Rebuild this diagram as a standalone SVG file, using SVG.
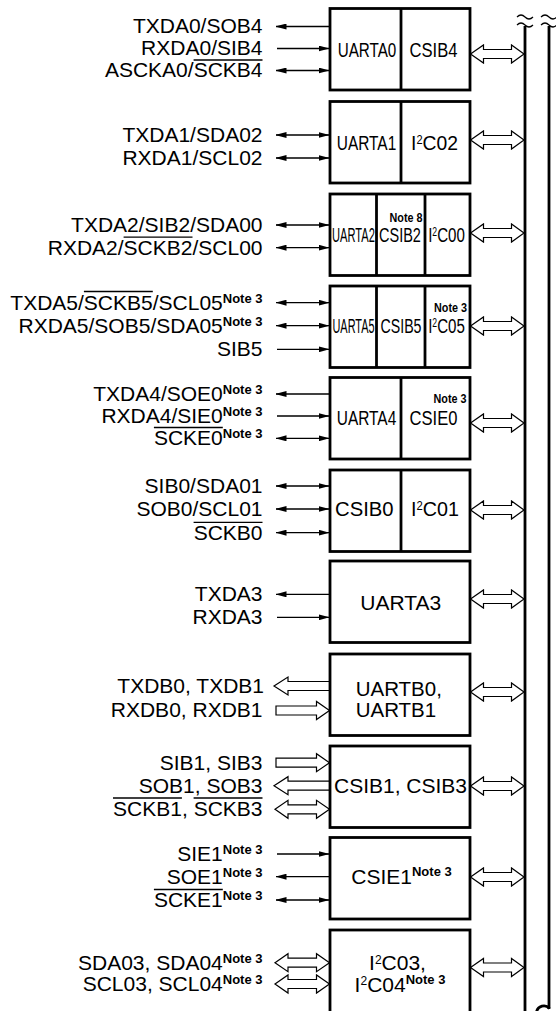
<svg xmlns="http://www.w3.org/2000/svg" width="556" height="1011" viewBox="0 0 556 1011">
<style>
text { font-family: "Liberation Sans", Arial, Helvetica, sans-serif; fill: #000; }
.l { font-size: 21px; text-anchor: end; }
.c { font-size: 21px; text-anchor: middle; }
.st { font-size: 20.5px; text-anchor: start; }
.n { font-size: 13px; font-weight: bold; }
.nb { font-size: 13.5px; font-weight: bold; text-anchor: end; }
.ov { stroke: #000; stroke-width: 1.3; }
.box { fill: #fff; stroke: #000; stroke-width: 2.8; }
.dv { stroke: #000; stroke-width: 2.8; }
.s { stroke: #000; stroke-width: 1.3; fill: none; }
.bus { stroke: #000; stroke-width: 2.8; fill: none; }
.brk { stroke: #000; stroke-width: 1.2; fill: none; }
</style>
<defs>
<marker id="a" viewBox="0 0 11 6" refX="10.5" refY="3" markerWidth="11" markerHeight="6" markerUnits="userSpaceOnUse" orient="auto-start-reverse"><path d="M0,0 L11,3 L0,6 z" fill="#000"/></marker>
<path id="hOut" d="M329,-4.5 H288 V-9 L274,0 L288,9 V4.5 H329" fill="#fff" stroke="#000" stroke-width="1.2"/>
<polygon id="hIn" points="276,-4.5 316.5,-4.5 316.5,-9 329.5,0 316.5,9 316.5,4.5 276,4.5" fill="#fff" stroke="#000" stroke-width="1.2"/>
<polygon id="hBoth" points="275,0 288,-9 288,-4.5 316.5,-4.5 316.5,-9 329.5,0 316.5,9 316.5,4.5 288,4.5 288,9" fill="#fff" stroke="#000" stroke-width="1.2"/>
<polygon id="busA" points="470.5,0 483.5,-9 483.5,-4.5 511.5,-4.5 511.5,-9 524,0 511.5,9 511.5,4.5 483.5,4.5 483.5,9" fill="#fff" stroke="#000" stroke-width="1.2"/>
</defs>
<rect width="556" height="1011" fill="#fff"/>

<g id="bus">
<line class="bus" x1="525" y1="26" x2="525" y2="1011"/>
<line class="bus" x1="549" y1="26" x2="549" y2="1009"/>
<path class="brk" d="M517,17 Q521,13 525,17 T533,17"/>
<path class="brk" d="M517,25 Q521,21 525,25 T533,25"/>
<path class="brk" d="M541,17 Q545,13 549,17 T557,17"/>
<path class="brk" d="M541,25 Q545,21 549,25 T557,25"/>
<path class="bus" d="M536.5,1012 A7.5,7.5 0 0 1 549.5,1008.5"/>
</g>

<g id="connectors">
<line class="s" x1="329" y1="26.5" x2="276" y2="26.5" marker-end="url(#a)"/>
<line class="s" x1="277" y1="48.5" x2="329" y2="48.5" marker-end="url(#a)"/>
<line class="s" x1="276" y1="70.5" x2="329" y2="70.5" marker-start="url(#a)" marker-end="url(#a)"/>
<line class="s" x1="276" y1="135" x2="329" y2="135" marker-start="url(#a)" marker-end="url(#a)"/>
<line class="s" x1="276" y1="158" x2="329" y2="158" marker-start="url(#a)" marker-end="url(#a)"/>
<line class="s" x1="276" y1="225" x2="329" y2="225" marker-start="url(#a)" marker-end="url(#a)"/>
<line class="s" x1="276" y1="247.7" x2="329" y2="247.7" marker-start="url(#a)" marker-end="url(#a)"/>
<line class="s" x1="276" y1="302.7" x2="329" y2="302.7" marker-start="url(#a)" marker-end="url(#a)"/>
<line class="s" x1="276" y1="325.7" x2="329" y2="325.7" marker-start="url(#a)" marker-end="url(#a)"/>
<line class="s" x1="277" y1="349.3" x2="329" y2="349.3" marker-end="url(#a)"/>
<line class="s" x1="329" y1="394" x2="276" y2="394" marker-end="url(#a)"/>
<line class="s" x1="277" y1="416" x2="329" y2="416" marker-end="url(#a)"/>
<line class="s" x1="276" y1="438.3" x2="329" y2="438.3" marker-start="url(#a)" marker-end="url(#a)"/>
<line class="s" x1="276" y1="486" x2="329" y2="486" marker-start="url(#a)" marker-end="url(#a)"/>
<line class="s" x1="276" y1="509" x2="329" y2="509" marker-start="url(#a)" marker-end="url(#a)"/>
<line class="s" x1="276" y1="532.7" x2="329" y2="532.7" marker-start="url(#a)" marker-end="url(#a)"/>
<line class="s" x1="329" y1="594.3" x2="276" y2="594.3" marker-end="url(#a)"/>
<line class="s" x1="277" y1="617.3" x2="329" y2="617.3" marker-end="url(#a)"/>
<use href="#hOut" y="686"/>
<use href="#hIn" y="710.5"/>
<use href="#hIn" y="762.7"/>
<use href="#hOut" y="785.7"/>
<use href="#hBoth" y="809.3"/>
<line class="s" x1="277" y1="854" x2="329" y2="854" marker-end="url(#a)"/>
<line class="s" x1="329" y1="876.7" x2="276" y2="876.7" marker-end="url(#a)"/>
<line class="s" x1="276" y1="900" x2="329" y2="900" marker-start="url(#a)" marker-end="url(#a)"/>
<use href="#hBoth" y="962.7"/>
<use href="#hBoth" y="984"/>
<use href="#busA" y="54"/>
<use href="#busA" y="140"/>
<use href="#busA" y="233"/>
<use href="#busA" y="326"/>
<use href="#busA" y="423"/>
<use href="#busA" y="510"/>
<use href="#busA" y="599"/>
<use href="#busA" y="692"/>
<use href="#busA" y="786"/>
<use href="#busA" y="877"/>
<use href="#busA" y="967.5"/>
</g>

<g id="pin-labels">
<text class="l" x="262.5" y="33.3">TXDA0/SOB4</text>
<text class="l" x="262.5" y="55.3">RXDA0/SIB4</text>
<text class="l" x="262.5" y="77.3">ASCKA0/SCKB4</text>
<text class="l" x="262.5" y="141.8">TXDA1/SDA02</text>
<text class="l" x="262.5" y="164.8">RXDA1/SCL02</text>
<text class="l" x="262.5" y="231.8">TXDA2/SIB2/SDA00</text>
<text class="l" x="262.5" y="254.5">RXDA2/SCKB2/SCL00</text>
<text class="l" x="262.5" y="309.5">TXDA5/SCKB5/SCL05<tspan class="n" dy="-7">Note 3</tspan></text>
<text class="l" x="262.5" y="332.5">RXDA5/SOB5/SDA05<tspan class="n" dy="-7">Note 3</tspan></text>
<text class="l" x="262.5" y="356">SIB5</text>
<text class="l" x="262.5" y="400.8">TXDA4/SOE0<tspan class="n" dy="-7">Note 3</tspan></text>
<text class="l" x="262.5" y="422.8">RXDA4/SIE0<tspan class="n" dy="-7">Note 3</tspan></text>
<text class="l" x="262.5" y="445">SCKE0<tspan class="n" dy="-7">Note 3</tspan></text>
<text class="l" x="262.5" y="492.8">SIB0/SDA01</text>
<text class="l" x="262.5" y="515.8">SOB0/SCL01</text>
<text class="l" x="262.5" y="539.5">SCKB0</text>
<text class="l" x="262.5" y="601">TXDA3</text>
<text class="l" x="262.5" y="624">RXDA3</text>
<text class="l" x="264" y="692.8">TXDB0, TXDB1</text>
<text class="l" x="262.5" y="717.3">RXDB0, RXDB1</text>
<text class="l" x="262.5" y="769.5">SIB1, SIB3</text>
<text class="l" x="262.5" y="792.5">SOB1, SOB3</text>
<text class="l" x="262.5" y="816">SCKB1, SCKB3</text>
<text class="l" x="262.5" y="860.8">SIE1<tspan class="n" dy="-7">Note 3</tspan></text>
<text class="l" x="262.5" y="883.5">SOE1<tspan class="n" dy="-7">Note 3</tspan></text>
<text class="l" x="262.5" y="906.8">SCKE1<tspan class="n" dy="-7">Note 3</tspan></text>
<text class="l" x="262.5" y="969.5">SDA03, SDA04<tspan class="n" dy="-7">Note 3</tspan></text>
<text class="l" x="262.5" y="990.8">SCL03, SCL04<tspan class="n" dy="-7">Note 3</tspan></text>
<g id="overlines">
<line class="ov" x1="193.6" y1="60" x2="262.5" y2="60"/>
<line class="ov" x1="123.6" y1="237.2" x2="192.5" y2="237.2"/>
<line class="ov" x1="83.9" y1="291.5" x2="152.8" y2="291.5"/>
<line class="ov" x1="153.9" y1="427.5" x2="222.8" y2="427.5"/>
<line class="ov" x1="193.6" y1="522.3" x2="262.5" y2="522.3"/>
<line class="ov" x1="113" y1="798" x2="181.9" y2="798"/>
<line class="ov" x1="193.6" y1="798" x2="262.5" y2="798"/>
<line class="ov" x1="153.9" y1="889.5" x2="222.8" y2="889.5"/>
</g>
</g>

<g id="uarta0-csib4">
<rect class="box" x="330" y="8.5" width="140" height="81.5"/>
<line class="dv" x1="401" y1="8.5" x2="401" y2="90"/>
<text class="c" transform="translate(367,56.7) scale(0.725,1)">UARTA0</text>
<text class="c" transform="translate(433.5,56.7) scale(0.79,1)">CSIB4</text>
</g>

<g id="uarta1-i2c02">
<rect class="box" x="330" y="101.5" width="140" height="81.5"/>
<line class="dv" x1="401" y1="101.5" x2="401" y2="183"/>
<text class="c" transform="translate(366.5,150) scale(0.735,1)">UARTA1</text>
<text class="c" transform="translate(434.5,150) scale(0.92,1)">I<tspan font-size="12" dy="-6.5">2</tspan><tspan dy="6.5">C02</tspan></text>
</g>

<g id="uarta2-csib2-i2c00">
<rect class="box" x="330" y="194" width="140" height="81.5"/>
<line class="dv" x1="376.5" y1="194" x2="376.5" y2="275.5"/>
<line class="dv" x1="425" y1="194" x2="425" y2="275.5"/>
<text class="c" transform="translate(353.5,242) scale(0.53,1)">UARTA2</text>
<text class="c" transform="translate(400,242) scale(0.69,1)">CSIB2</text>
<text class="c" transform="translate(446.5,242) scale(0.72,1)">I<tspan font-size="12" dy="-6.5">2</tspan><tspan dy="6.5">C00</tspan></text>
<text class="nb" transform="translate(422.5,221.7) scale(0.8,1)">Note 8</text>
</g>

<g id="uarta5-csib5-i2c05">
<rect class="box" x="330" y="286" width="140" height="81.5"/>
<line class="dv" x1="376.5" y1="286" x2="376.5" y2="367.5"/>
<line class="dv" x1="425" y1="286" x2="425" y2="367.5"/>
<text class="c" transform="translate(353.5,333) scale(0.52,1)">UARTA5</text>
<text class="c" transform="translate(401,333) scale(0.675,1)">CSIB5</text>
<text class="c" transform="translate(446.5,333) scale(0.72,1)">I<tspan font-size="12" dy="-6.5">2</tspan><tspan dy="6.5">C05</tspan></text>
<text class="nb" transform="translate(467,311.5) scale(0.8,1)">Note 3</text>
</g>

<g id="uarta4-csie0">
<rect class="box" x="330" y="377.5" width="140" height="81.5"/>
<line class="dv" x1="401" y1="377.5" x2="401" y2="459"/>
<text class="c" transform="translate(366.5,425) scale(0.735,1)">UARTA4</text>
<text class="c" transform="translate(433.5,425) scale(0.79,1)">CSIE0</text>
<text class="nb" transform="translate(466.5,403.3) scale(0.8,1)">Note 3</text>
</g>

<g id="csib0-i2c01">
<rect class="box" x="330" y="470" width="140" height="81.5"/>
<line class="dv" x1="401" y1="470" x2="401" y2="551.5"/>
<text class="c" transform="translate(364.3,516) scale(0.965,1)">CSIB0</text>
<text class="c" transform="translate(435,516) scale(0.94,1)">I<tspan font-size="12" dy="-6.5">2</tspan><tspan dy="6.5">C01</tspan></text>
</g>

<g id="uarta3">
<rect class="box" x="330" y="561" width="140" height="81.5"/>
<text class="c" x="400.7" y="610">UARTA3</text>
</g>

<g id="uartb0-uartb1">
<rect class="box" x="330" y="654" width="140" height="81.5"/>
<text class="st" x="355.7" y="695.5">UARTB0,</text>
<text class="st" x="355.7" y="717">UARTB1</text>
</g>

<g id="csib1-csib3">
<rect class="box" x="330" y="746" width="140" height="81.5"/>
<text class="c" x="400.5" y="793.3">CSIB1, CSIB3</text>
</g>

<g id="csie1">
<rect class="box" x="330" y="837.5" width="140" height="81.5"/>
<text class="c" x="401.5" y="884">CSIE1<tspan class="n" dy="-8">Note 3</tspan></text>
</g>

<g id="i2c03-i2c04">
<rect class="box" x="330" y="930" width="140" height="90"/>
<text class="c" x="397.5" y="970">I<tspan font-size="12" dy="-6.5">2</tspan><tspan dy="6.5">C03,</tspan></text>
<text class="c" x="400" y="991.5">I<tspan font-size="12" dy="-6.5">2</tspan><tspan dy="6.5">C04</tspan><tspan class="n" dy="-8">Note 3</tspan></text>
</g>
</svg>
